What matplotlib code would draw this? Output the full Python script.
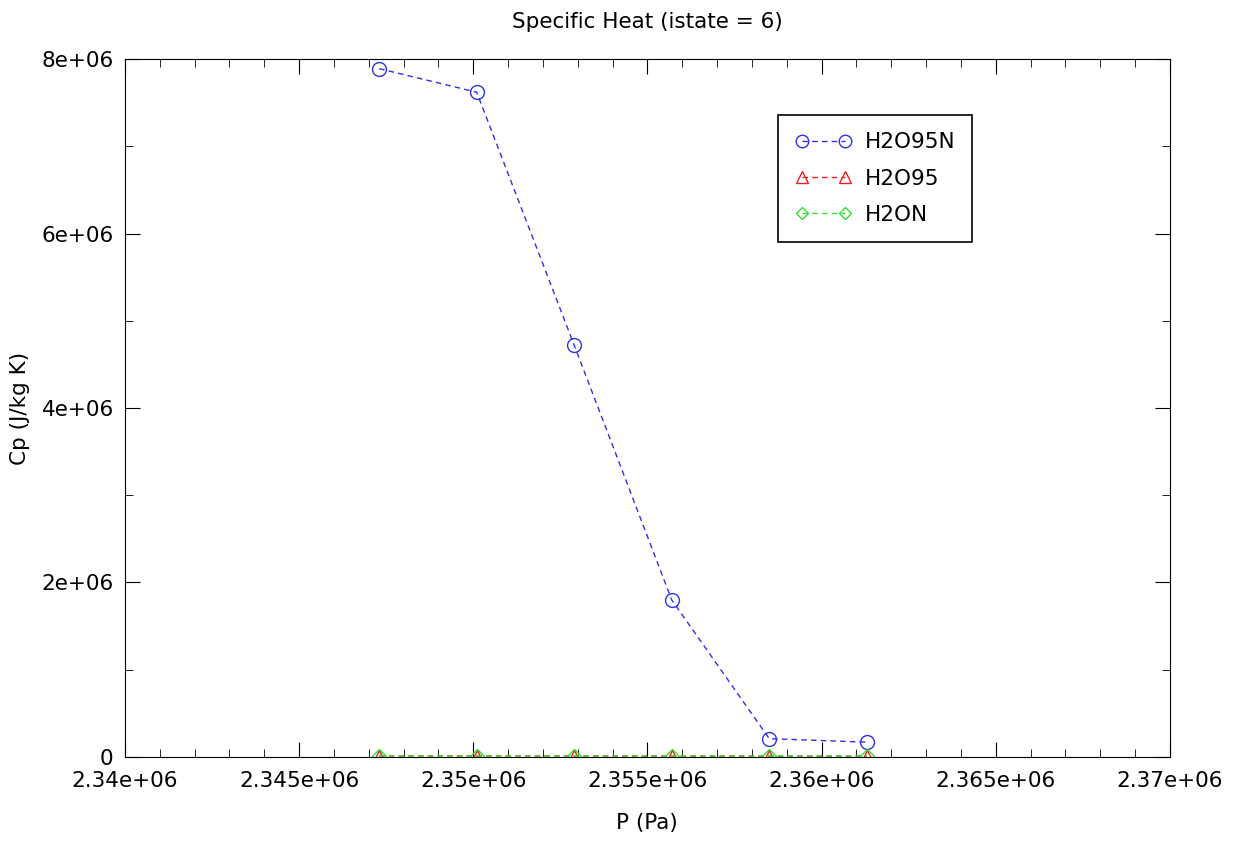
import numpy as np
import matplotlib
matplotlib.use('Agg')
import matplotlib.pyplot as plt
from matplotlib.ticker import MultipleLocator, FuncFormatter

pressure = [2.3473e6, 2.3501e6, 2.3529e6, 2.3557e6, 2.3585e6, 2.3613e6]
cp_h2o95n = [7.89e6, 7.62e6, 4.72e6, 1.80e6, 2.1e5, 1.7e5]
cp_h2o95 = [1.2e4, 1.2e4, 1.1e4, 1.1e4, 1.0e4, 1.0e4]
cp_h2on = [1.3e4, 1.2e4, 1.2e4, 1.1e4, 1.1e4, 1.0e4]

plt.rcParams['font.family'] = ['DejaVu Sans']
fig = plt.figure(figsize=(12.36, 8.41), dpi=100)
ax = fig.add_axes([0.101, 0.0999, 0.8455, 0.8299])

ax.plot(pressure, cp_h2o95n, '--o', color='#3030e8', mfc='none', ms=10, lw=1, dashes=(4, 3), label='H2O95N')
ax.plot(pressure, cp_h2o95, '--^', color='#e82020', mfc='none', ms=9, lw=1, dashes=(4, 3), label='H2O95')
ax.plot(pressure, cp_h2on, '--D', color='#30e030', mfc='none', ms=7, lw=1, dashes=(4, 3), label='H2ON')

ax.set_xlim(2.34e6, 2.37e6)
ax.set_ylim(0, 8e6)
ax.xaxis.set_major_locator(MultipleLocator(5000))
ax.xaxis.set_minor_locator(MultipleLocator(1000))
ax.yaxis.set_major_locator(MultipleLocator(2e6))
ax.yaxis.set_minor_locator(MultipleLocator(1e6))

def fmt(v, pos):
    if v == 0:
        return '0'
    m, e = ('%e' % v).split('e')
    m = ('%.4f' % float(m)).rstrip('0').rstrip('.')
    return '%se+%02d' % (m, int(e))

ax.xaxis.set_major_formatter(FuncFormatter(fmt))
ax.yaxis.set_major_formatter(FuncFormatter(fmt))
ax.tick_params(which='both', direction='in', top=True, right=True, labelsize=15.5)
ax.tick_params(which='major', length=11)
ax.tick_params(which='minor', length=6)
ax.tick_params(axis='x', pad=10)
ax.tick_params(axis='y', pad=8)

ax.set_title('Specific Heat (istate = 6)', fontsize=15.5, pad=22)
ax.set_xlabel('P (Pa)', fontsize=15.5, labelpad=16)
ax.set_ylabel('Cp (J/kg K)', fontsize=15.5, labelpad=8)

leg = ax.legend(loc='upper left', bbox_to_anchor=(0.615, 0.935), fontsize=15.5,
                fancybox=False, edgecolor='black', framealpha=1, handlelength=2.6,
                numpoints=2, markerscale=0.9,
                borderpad=0.8, labelspacing=0.75, handletextpad=0.6)
leg.get_frame().set_linewidth(1.2)

fig.savefig('out.png', dpi=100)
